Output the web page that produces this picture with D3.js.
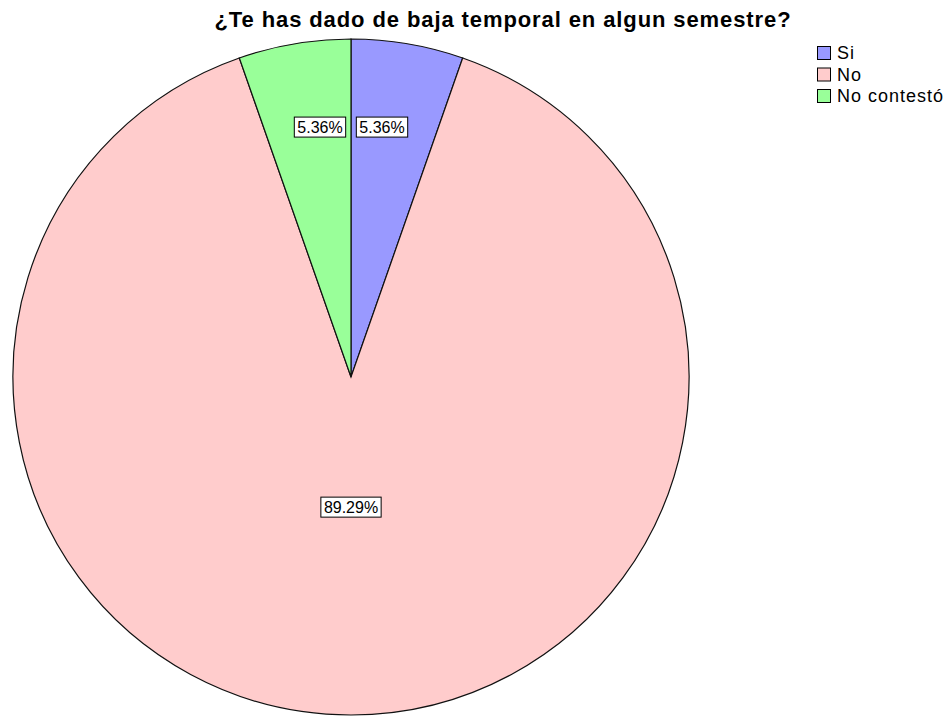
<!DOCTYPE html>
<html>
<head>
<meta charset="UTF-8">
<title>Baja temporal</title>
<script src="https://d3js.org/d3.v7.min.js"></script>
<style>
  body { margin: 0; background: #fff; }
  svg { display: block; font-family: "Liberation Sans", Arial, sans-serif; }
  .title { font-size: 22px; font-weight: bold; fill: #000; letter-spacing: 0.9px; }
  .legend-text { font-size: 18px; fill: #000; letter-spacing: 1px; }
  .label-text { font-size: 16px; fill: #000; }
</style>
</head>
<body>
<script>
// data
var categories = ["Si", "No", "No contestó"];
var percents = [5.36, 89.29, 5.36];
var colors = ["#9999ff", "#ffcccc", "#99ff99"];
var titleText = "¿Te has dado de baja temporal en algun semestre?";

var width = 948, height = 717;
var cx = 351, cy = 377, r = 338;

var svg = d3.select("body").append("svg")
    .attr("width", width)
    .attr("height", height);

svg.append("text")
    .attr("class", "title")
    .attr("x", 503)
    .attr("y", 27)
    .attr("text-anchor", "middle")
    .text(titleText);

var color = d3.scaleOrdinal().domain(categories).range(colors);

var pie = d3.pie().sort(null).value(function(d) { return d.value; });
var data = categories.map(function(c, i) { return {name: c, value: percents[i]}; });
var arcs = pie(data);

var arc = d3.arc().innerRadius(0).outerRadius(r);

var g = svg.append("g").attr("transform", "translate(" + cx + "," + cy + ")");

g.selectAll("path.slice")
    .data(arcs)
  .enter().append("path")
    .attr("class", "slice")
    .attr("d", arc)
    .attr("fill", function(d) { return color(d.data.name); })
    .attr("stroke", "#111")
    .attr("stroke-width", 1.2);

// labels
var labels = g.selectAll("g.lab")
    .data(arcs)
  .enter().append("g")
    .attr("class", "lab")
    .attr("transform", function(d) {
      var share = (d.endAngle - d.startAngle) / (2 * Math.PI);
      var lr = share > 0.5 ? 0.385 * r : 0.75 * r;
      var p = d3.arc().innerRadius(lr).outerRadius(lr).centroid(d);
      return "translate(" + (p[0] * 0.73) + "," + p[1] + ")";
    });

labels.append("text")
    .attr("class", "label-text")
    .attr("text-anchor", "middle")
    .attr("dy", "0.35em")
    .text(function(d) { return d3.format(".2f")(d.data.value) + "%"; })
    .each(function() {
      var b = this.getBBox();
      d3.select(this.parentNode).insert("rect", "text")
        .attr("x", b.x - 3)
        .attr("y", -10)
        .attr("width", b.width + 6)
        .attr("height", 20)
        .attr("fill", "#fff")
        .attr("stroke", "#000")
        .attr("stroke-width", 1);
    });

// legend
var legend = svg.append("g").attr("transform", "translate(817,46)");
var item = legend.selectAll("g.item")
    .data(categories)
  .enter().append("g")
    .attr("class", "item")
    .attr("transform", function(d, i) { return "translate(0," + (i * 21.5) + ")"; });

item.append("rect")
    .attr("x", 0.5)
    .attr("y", 0.5)
    .attr("width", 13)
    .attr("height", 13)
    .attr("fill", function(d) { return color(d); })
    .attr("stroke", "#000");

item.append("text")
    .attr("class", "legend-text")
    .attr("x", 20)
    .attr("y", 13)
    .text(function(d) { return d; });
</script>
</body>
</html>
